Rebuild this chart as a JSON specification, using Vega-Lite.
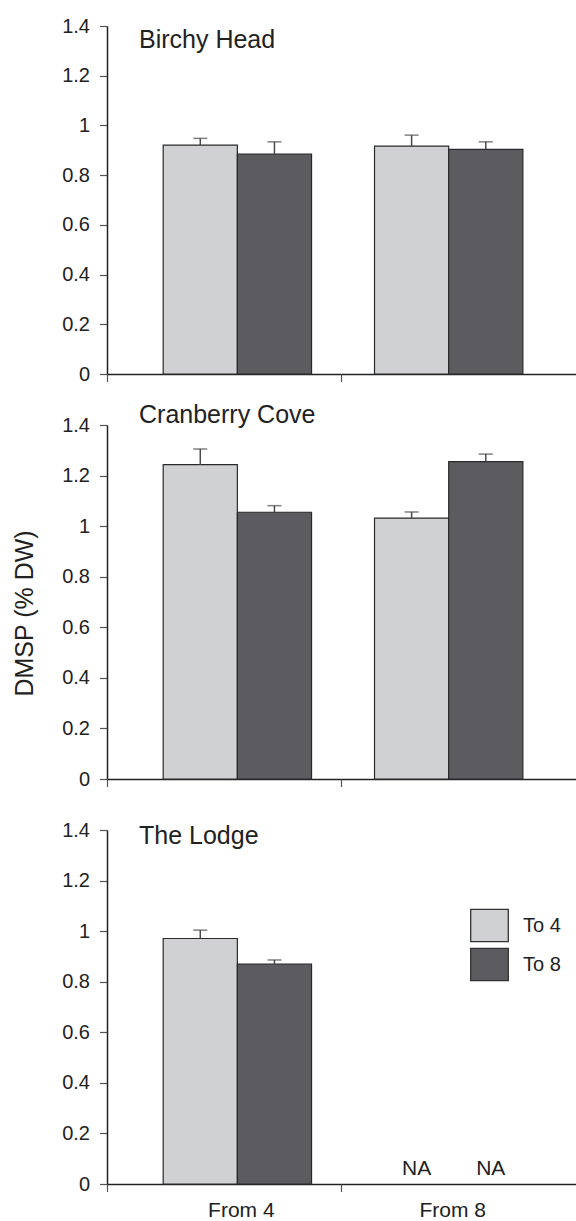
{
  "$schema": "https://vega.github.io/schema/vega-lite/v6.json",
  "background": "white",
  "padding": {"left": 12, "top": 16, "right": 0, "bottom": 0},
  "autosize": {"type": "pad"},
  "config": {
    "font": "Liberation Sans",
    "view": {"stroke": null},
    "axis": {
      "labelFont": "Liberation Sans",
      "labelFontSize": 20,
      "labelColor": "#222222",
      "domainColor": "#222222",
      "domainWidth": 1.5,
      "tickColor": "#555555",
      "tickWidth": 1.2,
      "tickSize": 7.5,
      "grid": false,
      "titleFont": "Liberation Sans",
      "titleFontSize": 25,
      "titleFontWeight": "normal",
      "titleColor": "#222222"
    },
    "legend": {"labelFont": "Liberation Sans", "labelColor": "#222222"},
    "title": {"font": "Liberation Sans", "fontSize": 25, "fontWeight": "normal", "color": "#222222", "anchor": "start", "frame": "group", "offset": 0, "baseline": "alphabetic"}
  },
  "data": {
    "values": [
      {"site": "Birchy Head", "from": "From 4", "to": "To 4", "value": 0.921, "upper": 0.948},
      {"site": "Birchy Head", "from": "From 4", "to": "To 8", "value": 0.885, "upper": 0.934},
      {"site": "Birchy Head", "from": "From 8", "to": "To 4", "value": 0.917, "upper": 0.961},
      {"site": "Birchy Head", "from": "From 8", "to": "To 8", "value": 0.904, "upper": 0.934},
      {"site": "Cranberry Cove", "from": "From 4", "to": "To 4", "value": 1.243, "upper": 1.305},
      {"site": "Cranberry Cove", "from": "From 4", "to": "To 8", "value": 1.055, "upper": 1.081},
      {"site": "Cranberry Cove", "from": "From 8", "to": "To 4", "value": 1.032, "upper": 1.056},
      {"site": "Cranberry Cove", "from": "From 8", "to": "To 8", "value": 1.255, "upper": 1.285},
      {"site": "The Lodge", "from": "From 4", "to": "To 4", "value": 0.971, "upper": 1.004},
      {"site": "The Lodge", "from": "From 4", "to": "To 8", "value": 0.870, "upper": 0.886},
      {"site": "The Lodge", "from": "From 8", "to": "To 4", "value": null, "upper": null},
      {"site": "The Lodge", "from": "From 8", "to": "To 8", "value": null, "upper": null}
    ]
  },
  "bounds": "flush",
  "spacing": 51,
  "resolve": {"scale": {"color": "independent"}, "legend": {"color": "independent"}},
  "vconcat": [
    {
      "width": 469,
      "height": 348,
      "title": {"text": "Birchy Head", "dx": 32, "dy": 41},
      "transform": [{"filter": "datum.site === 'Birchy Head'"}],
      "layer": [
        {
          "layer": [
            {
              "mark": {"type": "bar", "stroke": "#2a2a2a", "strokeWidth": 1.2},
              "encoding": {
                "x": {"field": "from", "type": "nominal", "scale": {"domain": ["From 4", "From 8"], "paddingInner": 0.298, "paddingOuter": 0.2586, "align": 0.514}, "axis": {"orient": "bottom", "title": null, "ticks": false, "labels": false}},
                "xOffset": {"field": "to", "type": "nominal", "scale": {"domain": ["To 4", "To 8"], "paddingInner": 0, "paddingOuter": 0}},
                "y": {"field": "value", "type": "quantitative", "scale": {"domain": [0, 1.4], "nice": false}, "axis": {"title": null, "values": [0, 0.2, 0.4, 0.6, 0.8, 1, 1.2, 1.4], "format": "~g", "labelPadding": 10}},
                "color": {"field": "to", "type": "nominal", "scale": {"domain": ["To 4", "To 8"], "range": ["#d0d1d3", "#5c5b60"]}, "legend": null}
              }
            },
            {
              "mark": {"type": "rule", "color": "#4a4a4a", "strokeWidth": 1.5},
              "encoding": {
                "x": {"field": "from", "type": "nominal"},
                "xOffset": {"field": "to", "type": "nominal"},
                "y": {"field": "value", "type": "quantitative"},
                "y2": {"field": "upper"}
              }
            },
            {
              "mark": {"type": "tick", "color": "#4a4a4a", "thickness": 1.5, "size": 14},
              "encoding": {
                "x": {"field": "from", "type": "nominal"},
                "xOffset": {"field": "to", "type": "nominal"},
                "y": {"field": "upper", "type": "quantitative"}
              }
            }
          ]
        },
        {
          "mark": {"type": "rule", "opacity": 0},
          "encoding": {
            "x": {"field": "from", "type": "nominal", "scale": {"domain": ["From 4", "From 8"], "paddingInner": 0, "paddingOuter": 0}, "axis": {"orient": "bottom", "title": null, "labels": false, "domain": false, "bandPosition": 0}}
          }
        }
      ],
      "resolve": {"scale": {"x": "independent"}, "axis": {"x": "independent"}}
    },
    {
      "width": 469,
      "height": 354,
      "title": {"text": "Cranberry Cove", "dx": 32, "dy": 17},
      "transform": [{"filter": "datum.site === 'Cranberry Cove'"}],
      "layer": [
        {
          "layer": [
            {
              "mark": {"type": "bar", "stroke": "#2a2a2a", "strokeWidth": 1.2},
              "encoding": {
                "x": {"field": "from", "type": "nominal", "scale": {"domain": ["From 4", "From 8"], "paddingInner": 0.298, "paddingOuter": 0.2586, "align": 0.514}, "axis": {"orient": "bottom", "title": null, "ticks": false, "labels": false}},
                "xOffset": {"field": "to", "type": "nominal", "scale": {"domain": ["To 4", "To 8"], "paddingInner": 0, "paddingOuter": 0}},
                "y": {"field": "value", "type": "quantitative", "scale": {"domain": [0, 1.4], "nice": false}, "axis": {"title": "DMSP (% DW)", "titlePadding": 24, "titleY": 188, "values": [0, 0.2, 0.4, 0.6, 0.8, 1, 1.2, 1.4], "format": "~g", "labelPadding": 10}},
                "color": {"field": "to", "type": "nominal", "scale": {"domain": ["To 4", "To 8"], "range": ["#d0d1d3", "#5c5b60"]}, "legend": null}
              }
            },
            {
              "mark": {"type": "rule", "color": "#4a4a4a", "strokeWidth": 1.5},
              "encoding": {
                "x": {"field": "from", "type": "nominal"},
                "xOffset": {"field": "to", "type": "nominal"},
                "y": {"field": "value", "type": "quantitative"},
                "y2": {"field": "upper"}
              }
            },
            {
              "mark": {"type": "tick", "color": "#4a4a4a", "thickness": 1.5, "size": 14},
              "encoding": {
                "x": {"field": "from", "type": "nominal"},
                "xOffset": {"field": "to", "type": "nominal"},
                "y": {"field": "upper", "type": "quantitative"}
              }
            }
          ]
        },
        {
          "mark": {"type": "rule", "opacity": 0},
          "encoding": {
            "x": {"field": "from", "type": "nominal", "scale": {"domain": ["From 4", "From 8"], "paddingInner": 0, "paddingOuter": 0}, "axis": {"orient": "bottom", "title": null, "labels": false, "domain": false, "bandPosition": 0}}
          }
        }
      ],
      "resolve": {"scale": {"x": "independent"}, "axis": {"x": "independent"}}
    },
    {
      "width": 469,
      "height": 354,
      "title": {"text": "The Lodge", "dx": 32, "dy": 33},
      "transform": [{"filter": "datum.site === 'The Lodge'"}],
      "layer": [
        {
          "layer": [
            {
              "mark": {"type": "bar", "stroke": "#2a2a2a", "strokeWidth": 1.2},
              "encoding": {
                "x": {"field": "from", "type": "nominal", "scale": {"domain": ["From 4", "From 8"], "paddingInner": 0.298, "paddingOuter": 0.2586, "align": 0.514}, "axis": {"orient": "bottom", "title": null, "ticks": false, "labels": true, "labelAngle": 0, "labelFontSize": 21, "labelPadding": 15, "labelOffset": 4}},
                "xOffset": {"field": "to", "type": "nominal", "scale": {"domain": ["To 4", "To 8"], "paddingInner": 0, "paddingOuter": 0}},
                "y": {"field": "value", "type": "quantitative", "scale": {"domain": [0, 1.4], "nice": false}, "axis": {"title": null, "values": [0, 0.2, 0.4, 0.6, 0.8, 1, 1.2, 1.4], "format": "~g", "labelPadding": 10}},
                "color": {"field": "to", "type": "nominal", "scale": {"domain": ["To 4", "To 8"], "range": ["#d0d1d3", "#5c5b60"]}, "legend": {"orient": "none", "legendX": 363, "legendY": 76, "title": null, "padding": 0, "symbolType": "M-1,-0.859H1V0.859H-1Z", "symbolSize": 1414, "symbolStrokeColor": "#333333", "symbolStrokeWidth": 1.3, "labelFontSize": 20, "labelOffset": 14, "rowPadding": -2}}
              }
            },
            {
              "mark": {"type": "rule", "color": "#4a4a4a", "strokeWidth": 1.5},
              "encoding": {
                "x": {"field": "from", "type": "nominal"},
                "xOffset": {"field": "to", "type": "nominal"},
                "y": {"field": "value", "type": "quantitative"},
                "y2": {"field": "upper"}
              }
            },
            {
              "mark": {"type": "tick", "color": "#4a4a4a", "thickness": 1.5, "size": 14},
              "encoding": {
                "x": {"field": "from", "type": "nominal"},
                "xOffset": {"field": "to", "type": "nominal"},
                "y": {"field": "upper", "type": "quantitative"}
              }
            },
            {
              "transform": [{"filter": "datum.value == null"}],
              "mark": {"type": "text", "text": "NA", "baseline": "alphabetic", "dy": -9, "dx": 5, "fontSize": 21, "color": "#222222"},
              "encoding": {
                "x": {"field": "from", "type": "nominal"},
                "xOffset": {"field": "to", "type": "nominal"},
                "y": {"datum": 0}
              }
            }
          ]
        },
        {
          "mark": {"type": "rule", "opacity": 0},
          "encoding": {
            "x": {"field": "from", "type": "nominal", "scale": {"domain": ["From 4", "From 8"], "paddingInner": 0, "paddingOuter": 0}, "axis": {"orient": "bottom", "title": null, "labels": false, "domain": false, "bandPosition": 0}}
          }
        }
      ],
      "resolve": {"scale": {"x": "independent"}, "axis": {"x": "independent"}}
    }
  ]
}
